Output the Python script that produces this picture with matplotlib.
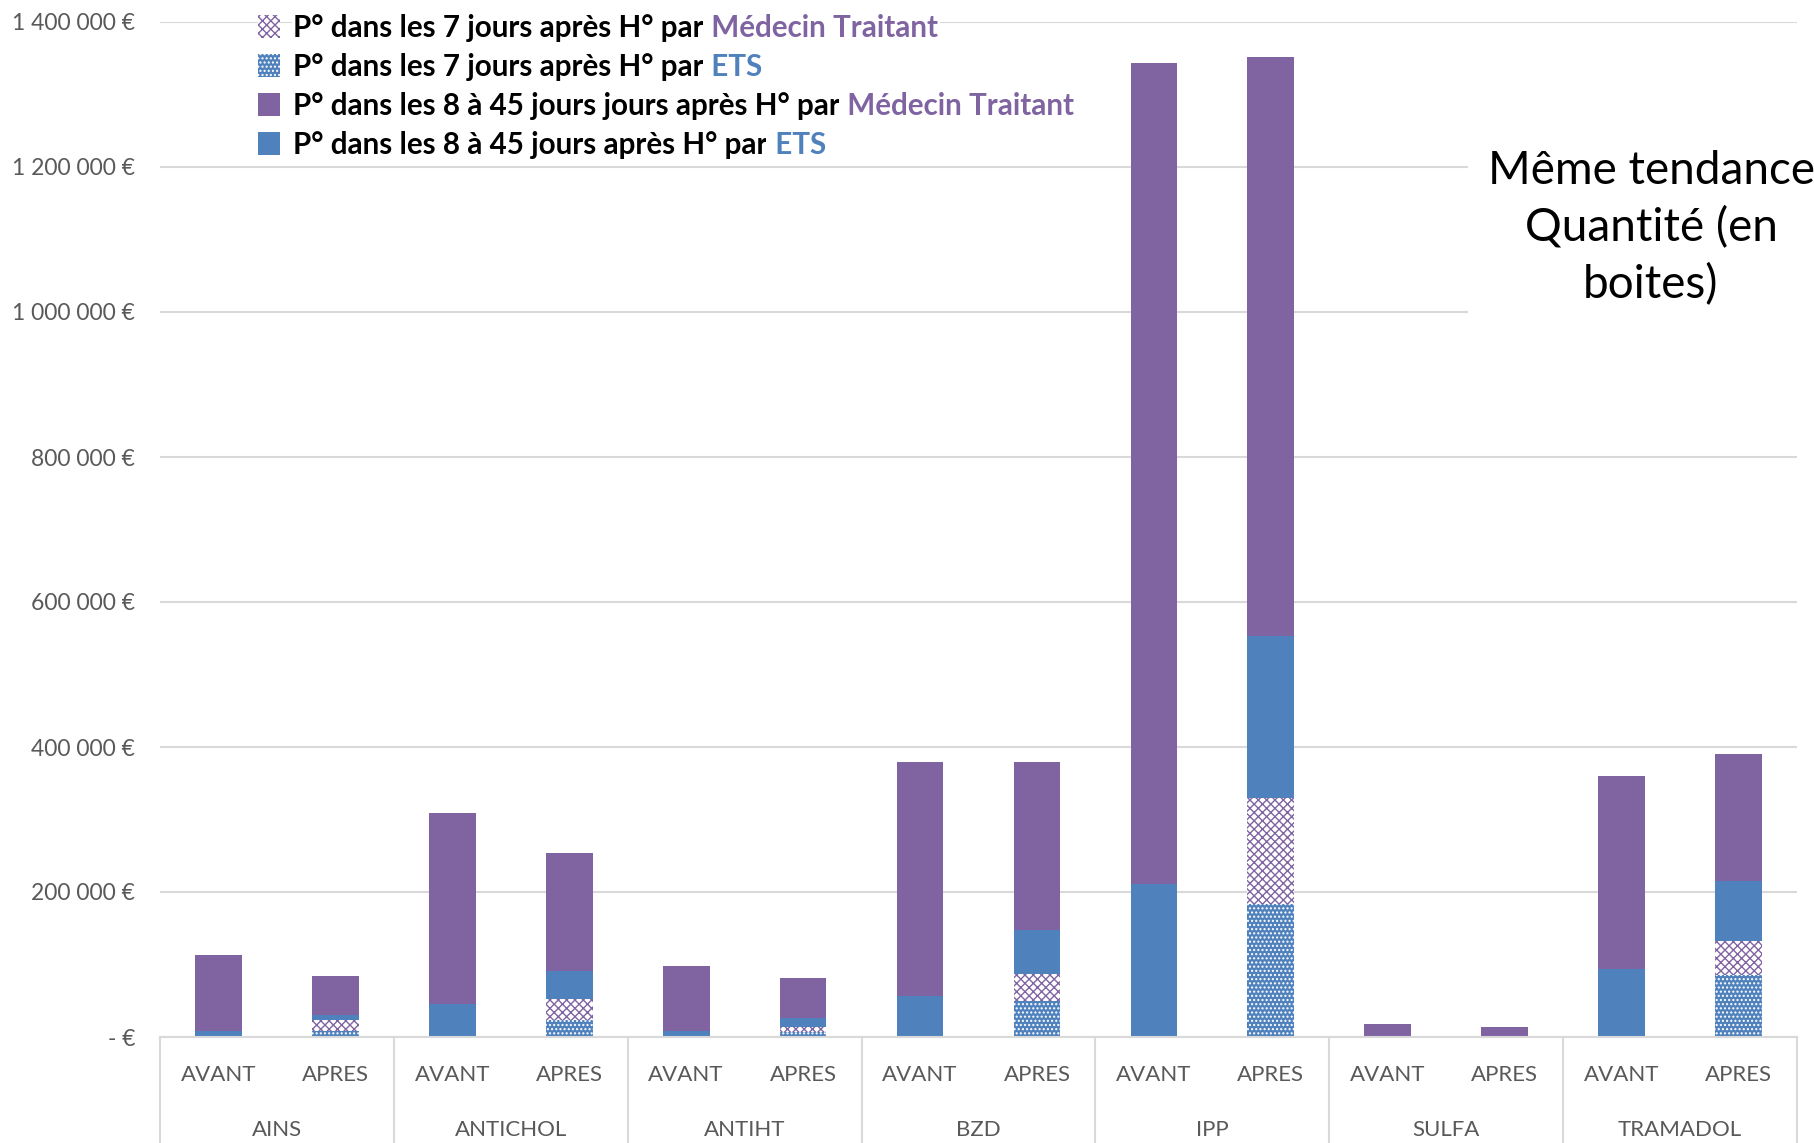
import matplotlib
matplotlib.use("Agg")
import matplotlib.pyplot as plt
from matplotlib.patches import Patch
from matplotlib.ticker import FuncFormatter
import numpy as np

# Data (euros), one entry per bar: AVANT / APRES for each class
groups = ["AINS", "ANTICHOL", "ANTIHT", "BZD", "IPP", "SULFA", "TRAMADOL"]
periods = ["AVANT", "APRES"]
ets_7j = [0, 8000, 0, 24000, 0, 7000, 0, 50000, 0, 183000, 0, 2000, 0, 86000]
mt_7j = [0, 15000, 0, 28000, 0, 7000, 0, 36500, 0, 147000, 0, 0, 0, 47000]
ets_8_45j = [8000, 8000, 46000, 39000, 8000, 12000, 57000, 61500, 211000, 223000, 1000, 0, 94000, 82000]
mt_8_45j = [105000, 53000, 263000, 163000, 90000, 56000, 323000, 232000, 1132000, 799000, 16500, 12000, 266000, 176000]

legend_heads = ["P° dans les 7 jours après H° par",
                "P° dans les 7 jours après H° par",
                "P° dans les 8 à 45 jours jours après H° par",
                "P° dans les 8 à 45 jours après H° par"]
legend_tails = [" Médecin Traitant", " ETS", " Médecin Traitant", " ETS"]
note = "Même tendance\nQuantité (en\nboites)"

PURPLE = "#8064A2"
BLUE = "#4F81BD"
GRID = "#D9D9D9"
LABEL = "#595959"

plt.rcParams["font.family"] = ["Lato", "DejaVu Sans"]
plt.rcParams["hatch.linewidth"] = 1.0

W, H = 1814, 1143
fig = plt.figure(figsize=(W / 100, H / 100), dpi=100)
ax = fig.add_axes([160 / W, 1 - 1037 / H, (1797 - 160) / W, (1037 - 22) / H])

x = np.arange(len(groups) * len(periods))
width = 0.4
styles = [
    (ets_7j, dict(facecolor=BLUE, edgecolor="white", hatch="....")),
    (mt_7j, dict(facecolor="white", edgecolor=PURPLE, hatch="xxxx")),
    (ets_8_45j, dict(facecolor=BLUE, edgecolor=BLUE)),
    (mt_8_45j, dict(facecolor=PURPLE, edgecolor=PURPLE)),
]
bottom = np.zeros(len(x))
for vals, st in styles:
    vals = np.array(vals, dtype=float)
    ax.bar(x, vals, width, bottom=bottom, linewidth=0, zorder=2, **st)
    bottom += vals

# axes look
ax.set_xlim(-0.5, len(x) - 0.5)
ax.set_ylim(0, 1400000)
ax.set_yticks(np.arange(0, 1400001, 200000))
ax.yaxis.set_major_formatter(FuncFormatter(
    lambda v, _: "- €" if v == 0 else f"{int(v):,} €".replace(",", " ")))
ax.set_xticks(x, periods * len(groups))
ax.tick_params(axis="x", length=0, pad=20, labelsize=16, labelcolor=LABEL)
ax.tick_params(axis="y", length=0, pad=18, labelsize=16.5, labelcolor=LABEL)
for s in ["top", "right", "left"]:
    ax.spines[s].set_visible(False)
ax.spines["bottom"].set_color(GRID)
ax.spines["bottom"].set_linewidth(1.5)
ax.grid(axis="y", color=GRID, linewidth=1.5)
ax.set_axisbelow(True)

# second level of categories
tr = ax.get_xaxis_transform()
for i, g in enumerate(groups):
    ax.text(i * 2 + 0.5, -0.092, g, transform=tr, ha="center", va="center",
            fontsize=16, color=LABEL)
for b in np.arange(-0.5, len(x), 2):
    ax.plot([b, b], [0, -0.11], transform=tr, color=GRID, lw=1.5, clip_on=False)

# legend with two-colour labels
handles = [Patch(linewidth=0, **st) for _, st in styles]
handles = [handles[1], handles[0], handles[3], handles[2]]
leg = ax.legend(handles, legend_heads, loc="upper left",
                bbox_to_anchor=(252 / W, 1 - 8 / H), bbox_transform=fig.transFigure,
                frameon=False, prop=dict(weight="bold", size=21.3),
                handlelength=0.75, handleheight=0.85, handletextpad=0.45,
                labelspacing=0.37, borderpad=0.2, borderaxespad=0)
tail_colors = [PURPLE, BLUE, PURPLE, BLUE]
for t, tail, col in zip(leg.get_texts(), legend_tails, tail_colors):
    t.set_bbox(dict(fc="white", ec="none", pad=1))
    ax.annotate(tail, xy=(1, 0), xycoords=t, va="bottom", ha="left", color=col,
                fontsize=21.3, fontweight="bold", zorder=6,
                bbox=dict(fc="white", ec="none", pad=1))

fig.text(1651 / W, 1 - 228 / H, note, ha="center", va="center", fontsize=33,
         linespacing=1.4, bbox=dict(fc="white", ec="none", pad=14))

fig.savefig("out.png", dpi=100)
